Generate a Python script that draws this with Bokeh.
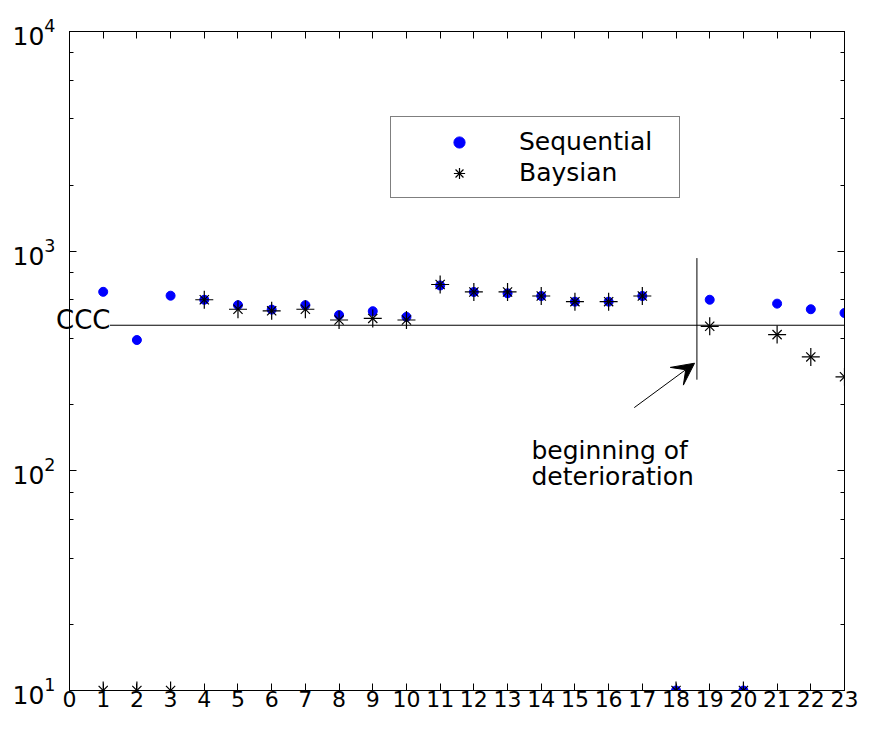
from bokeh.plotting import figure
from bokeh.models import (Range1d, FixedTicker, LogAxis, LinearAxis, LogTicker, Label, Arrow,
                          VeeHead, Legend, LegendItem, CustomJSTickFormatter, ColumnDataSource,
                          LogTickFormatter)
from bokeh.embed import file_html
from bokeh.resources import INLINE

# ---- data ----
x_index = list(range(1, 24))
sequential = [653, 394, 627, 601, 568, 542, 568, 512, 533, 502, 698, 652,
              643, 625, 589, 589, 625, 10, 601, 10, 577, 544, 523]
baysian = [10, 10, 10, 601, 544, 535, 544, 486, 494, 486, 705, 652,
           652, 625, 589, 589, 625, 10, 455, 10, 417, 330, 268]
x_ticks = list(range(0, 24))
y_ticks = [10, 100, 1000, 10000]
ccc_level = 460
ccc_label_pos = 484
ccc_start = 1.2
onset_x = 18.62
onset_span = [260, 930]
arrow_tail = (16.76, 194)
arrow_tip = (18.55, 309)

FONT = "DejaVu Sans"

src = ColumnDataSource(dict(x=x_index, seq=sequential, bay=baysian))

p = figure(width=859, height=716, y_axis_type="log",
           x_range=Range1d(0, 23), y_range=Range1d(10, 10000),
           output_backend="svg", toolbar_location=None,
           min_border_left=69, min_border_right=15, min_border_top=31, min_border_bottom=26)
p.xgrid.visible = False
p.ygrid.visible = False
p.outline_line_color = "black"
p.outline_line_width = 1
p.background_fill_color = "white"
p.border_fill_color = "white"

xax = p.below[0]
tick_ax = p.left[0]          # ticks at the frame edge, no labels

ylog_ticker = LogTicker(desired_num_ticks=4)
tick_ax.ticker = ylog_ticker
tick_ax.formatter = CustomJSTickFormatter(code="return ''")
xax.ticker = FixedTicker(ticks=x_ticks)

top_ax = LinearAxis(ticker=FixedTicker(ticks=x_ticks),
                    formatter=CustomJSTickFormatter(code="return ''"))
right_ax = LogAxis(ticker=ylog_ticker, formatter=CustomJSTickFormatter(code="return ''"))
p.add_layout(top_ax, "above")
p.add_layout(right_ax, "right")

for ax in [xax, tick_ax, top_ax, right_ax]:
    ax.axis_line_color = "black"
    ax.axis_line_width = 1
    ax.major_tick_line_color = "black"
    ax.minor_tick_line_color = "black"
    ax.major_tick_in = 7
    ax.major_tick_out = 0
    ax.minor_tick_in = 4
    ax.minor_tick_out = 0
    ax.major_label_text_font = FONT
    ax.major_label_text_color = "black"
    ax.major_label_standoff = 0

xax.major_label_text_font_size = "22px"
for ax in [tick_ax, top_ax, right_ax]:
    ax.major_label_text_font_size = "1px"

def label_axis(ticker, formatter, standoff, size):
    ax = LogAxis(ticker=ticker, formatter=formatter)
    ax.axis_line_color = None
    ax.major_tick_line_color = None
    ax.minor_tick_line_color = None
    ax.major_tick_in = 0
    ax.major_tick_out = 0
    ax.minor_tick_in = 0
    ax.minor_tick_out = 0
    ax.major_label_standoff = standoff
    ax.major_label_text_font = FONT
    ax.major_label_text_font_size = size
    ax.major_label_text_color = "black"
    return ax

# "CCC" overhangs the left frame edge, so it is drawn as an axis label
ccc_ax = label_axis(FixedTicker(ticks=[ccc_label_pos]),
                    CustomJSTickFormatter(code="return 'CCC'"), -41, "26px")
# decade labels 10^1 ... 10^4
dec_ax = label_axis(ylog_ticker, LogTickFormatter(), -2, "25px")
p.add_layout(ccc_ax, "left")
p.add_layout(dec_ax, "left")
p.left = [tick_ax, ccc_ax, dec_ax]

# CCC threshold line
p.line(x=[ccc_start, 23], y=[ccc_level, ccc_level], line_color="black", line_width=1)

# onset marker line
p.line(x=[onset_x, onset_x], y=onset_span, line_color="black", line_width=1)

# series
r_seq = p.scatter("x", "seq", source=src, marker="circle", size=9,
                  fill_color="#0000FF", line_color="#0000FF")
r_cross = p.scatter("x", "bay", source=src, marker="cross", size=18,
                    line_color="black", line_width=1.2)
r_x = p.scatter("x", "bay", source=src, marker="x", size=13,
                line_color="black", line_width=1.2)

# arrow and annotation
p.add_layout(Arrow(end=VeeHead(size=22, fill_color="black", line_color="black"),
                   x_start=arrow_tail[0], y_start=arrow_tail[1],
                   x_end=arrow_tip[0], y_end=arrow_tip[1],
                   line_color="black", line_width=1))
p.add_layout(Label(x=13.71, y=124.3, text="beginning of", text_font=FONT,
                   text_font_size="25px", text_baseline="alphabetic", text_color="black"))
p.add_layout(Label(x=13.71, y=94, text="deterioration", text_font=FONT,
                   text_font_size="25px", text_baseline="alphabetic", text_color="black"))

legend = Legend(items=[LegendItem(label="Sequential", renderers=[r_seq]),
                       LegendItem(label="Baysian", renderers=[r_cross, r_x])],
                location=(321, 492))
legend.border_line_color = "black"
legend.border_line_width = 1
legend.background_fill_color = "white"
legend.background_fill_alpha = 1
legend.padding = 10
legend.spacing = 2
legend.margin = 0
legend.glyph_width = 116
legend.glyph_height = 28
legend.label_standoff = 2
legend.label_width = 150
legend.label_text_font = FONT
legend.label_text_font_size = "25px"
legend.label_text_color = "black"
p.add_layout(legend)

open("out.html", "w").write(file_html(p, INLINE))
